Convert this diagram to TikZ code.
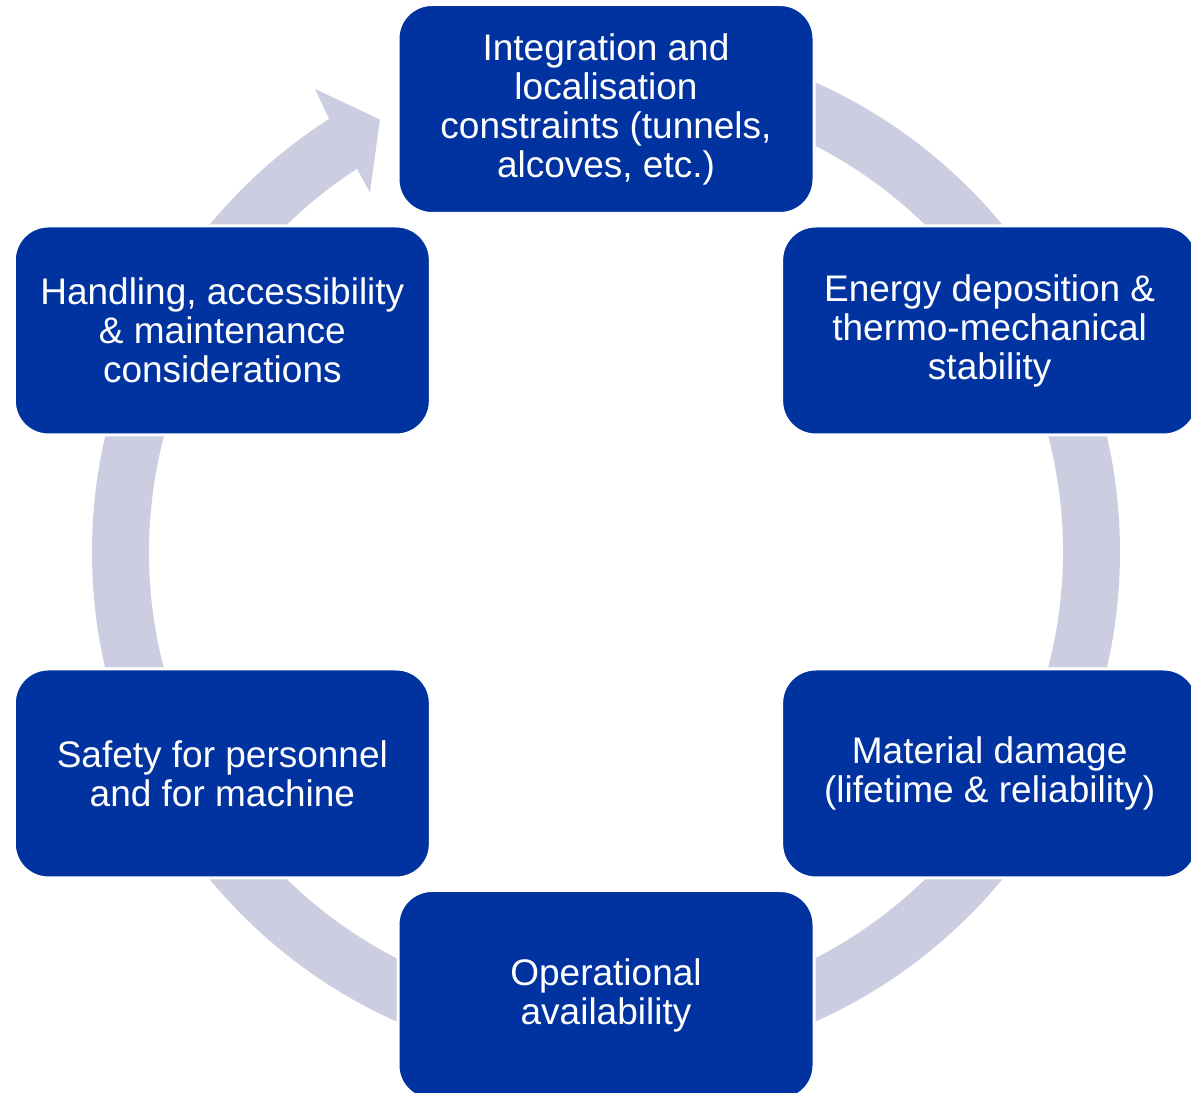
\documentclass[tikz,border=0pt]{standalone}
\usepackage{fontspec}
\setmainfont{Liberation Sans}
\definecolor{boxblue}{RGB}{0,51,160}
\definecolor{ringgrey}{RGB}{204,205,224}
\begin{document}
\begin{tikzpicture}[x=0.5pt,y=0.5pt,
  stage/.style={fill=boxblue, draw=white, line width=1.5pt, rounded corners=17pt,
    minimum width=208pt, minimum height=104.5pt, inner sep=0pt, text=white,
    align=center, font=\fontsize{18.5}{19.5}\selectfont},
  ringband/.style={fill=ringgrey}]
\useasboundingbox (0,0) rectangle (1191,1093);
\clip (0,0) rectangle (1191,1093);
\begin{scope}[shift={(606,541)}]
  % cycle band ending in an arrowhead
  \fill[ringband] (90:514) arc[start angle=90, end angle=-237.4, radius=514]
    -- (122.15:547) -- (117.6:488) -- (123.3:430) -- (123.0:457)
    arc[start angle=-237.0, end angle=90, radius=457] -- cycle;
  % stages
  \node[stage] (integ)    at (90:443)  {Integration and\\localisation\\constraints (tunnels,\\alcoves, etc.)};
  \node[stage] (energy)   at (30:443)  {Energy deposition \&\\thermo-mechanical\\stability};
  \node[stage] (damage)   at (-30:443) {Material damage\\(lifetime \& reliability)};
  \node[stage] (avail)    at (-90:443) {Operational\\availability};
  \node[stage] (safety)   at (-150:443) {Safety for personnel\\and for machine};
  \node[stage] (handling) at (150:443) {Handling, accessibility\\\& maintenance\\considerations};
\end{scope}
\end{tikzpicture}
\end{document}
